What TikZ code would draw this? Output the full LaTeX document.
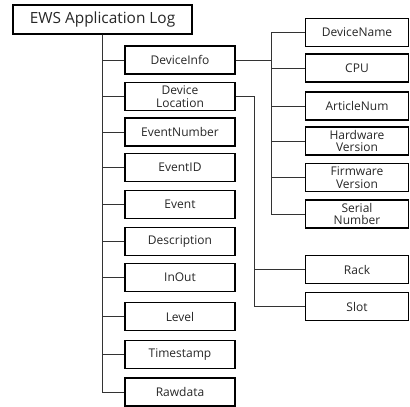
\documentclass[tikz,border=0pt]{standalone}
\usepackage{fontspec}
\setmainfont{Open Sans}
\usepackage{tikz}
\usetikzlibrary{positioning, calc}

\begin{document}
\begin{tikzpicture}[
  x=1pt, y=1pt,
  rootbox/.style={draw=black, line width=1.2pt, minimum width=179pt, minimum height=29pt, inner sep=0pt, text=black!85, font=\fontsize{15.4}{17}\selectfont},
  fieldbox/.style={draw=black, line width=1.2pt, minimum width=110pt, minimum height=28pt, inner sep=0pt, align=center, text=black!85, font=\fontsize{12}{13.5}\selectfont},
  subbox/.style={draw=black, line width=1.2pt, minimum width=103pt, minimum height=28pt, inner sep=0pt, align=center, text=black!85, font=\fontsize{12}{13.5}\selectfont},
  link/.style={draw=black!80, line width=0.6pt}
]
  \useasboundingbox (0,0) rectangle (410,-407);

  % root
  \node[rootbox] (root) at (102.5,-19.5) {EWS Application Log};

  % first level
  \node[fieldbox] (devinfo)  at (180,-60)    {DeviceInfo};
  \node[fieldbox] (devloc)   at (180,-96.5)  {Device\\[-1pt]Location};
  \node[fieldbox] (evnum)    at (180,-132)   {EventNumber};
  \node[fieldbox] (evid)     at (180,-167.5) {EventID};
  \node[fieldbox] (event)    at (180,-204.5) {Event};
  \node[fieldbox] (descr)    at (180,-241.5) {Description};
  \node[fieldbox] (inout)    at (180,-277.5) {InOut};
  \node[fieldbox] (level)    at (180,-316.5) {Level};
  \node[fieldbox] (tstamp)   at (180,-354.5) {Timestamp};
  \node[fieldbox] (rawdata)  at (180,-392)   {Rawdata};

  % second level
  \node[subbox] (devname)  at (357,-32.5)  {DeviceName};
  \node[subbox] (cpu)      at (357,-68)    {CPU};
  \node[subbox] (artnum)   at (357,-106)   {ArticleNum};
  \node[subbox] (hwver)    at (357,-141)   {Hardware\\[-1pt]Version};
  \node[subbox] (fwver)    at (357,-177.5) {Firmware\\[-1pt]Version};
  \node[subbox] (serial)   at (357,-214)   {Serial\\[-1pt]Number};
  \node[subbox] (rack)     at (357,-269.5) {Rack};
  \node[subbox] (slot)     at (357,-306.5) {Slot};

  % spine
  \foreach \f in {devinfo, devloc, evnum, evid, event, descr, inout, level, tstamp, rawdata}
    \draw[link] (root.south) |- (\f.west);

  % device info branch
  \draw[link] (devinfo.east) -- ++(36,0) coordinate (infobus);
  \foreach \f in {devname, cpu, artnum, hwver, fwver, serial}
    \draw[link] (infobus) |- (\f.west);

  % device location branch
  \draw[link] (devloc.east) -- ++(19,0) coordinate (locbus);
  \draw[link] (locbus) |- (rack.west);
  \draw[link] (locbus) |- (slot.west);
\end{tikzpicture}
\end{document}
